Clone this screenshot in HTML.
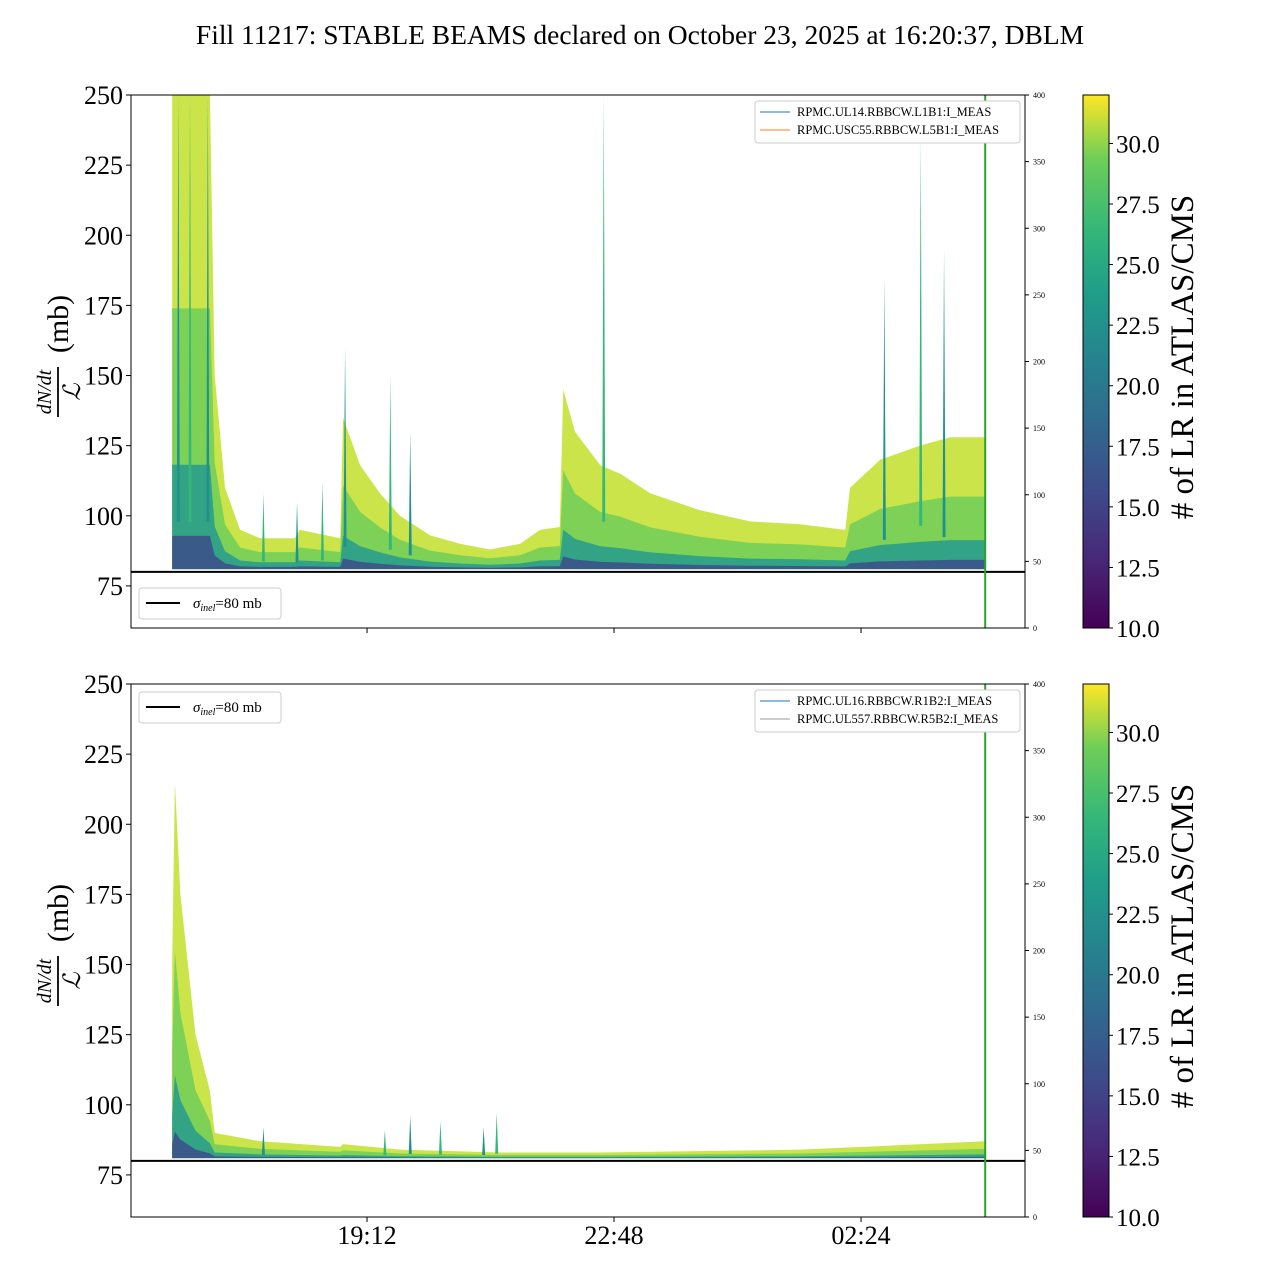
<!DOCTYPE html>
<html><head><meta charset="utf-8">
<style>
body{margin:0;background:#fff;font-family:"Liberation Serif",serif;}
svg text{font-family:"Liberation Serif",serif;}
</style></head>
<body>
<svg id="chart" width="1280" height="1280" viewBox="0 0 1280 1280" xmlns="http://www.w3.org/2000/svg">
<defs>
<linearGradient id="viridis" x1="0" y1="1" x2="0" y2="0">
<stop offset="0" stop-color="#440154"/><stop offset="0.13" stop-color="#482878"/><stop offset="0.25" stop-color="#3e4989"/>
<stop offset="0.38" stop-color="#31688e"/><stop offset="0.5" stop-color="#26828e"/><stop offset="0.63" stop-color="#1f9e89"/>
<stop offset="0.75" stop-color="#35b779"/><stop offset="0.88" stop-color="#6ece58"/><stop offset="1" stop-color="#fde725"/>
</linearGradient>
</defs>
<text x="640" y="44" font-size="27.5" text-anchor="middle">Fill 11217: STABLE BEAMS declared on October 23, 2025 at 16:20:37, DBLM</text>
<g id="top"></g>
<g id="bottom"></g>
</svg>
<script>
// time in hours since midnight Oct 23 (values >24 are next day)
const topTimes=[16.36,16.91,16.98,17.13,17.35,17.64,18.15,18.22,18.81,18.85,19.10,19.39,19.68,20.12,20.56,20.99,21.43,21.72,22.01,22.06,22.23,22.60,22.89,23.33,24.05,24.78,25.51,26.17,26.24,26.68,27.26,27.70,28.21];
const topUpper=[250,250,150,110,95,92,92,95,92,135,118,108,100,93,90,88,90,95,96,145,130,118,115,108,102,98,97,95,110,120,125,128,128];
const topSpikeTimes=[16.45,16.62,16.88,17.69,18.18,18.55,18.88,19.54,19.83,22.65,26.74,27.27,27.61];
const topSpikeValues=[250,250,250,108,105,112,160,150,130,250,185,235,195];
const botTimes=[16.36,16.40,16.48,16.70,16.91,16.98,17.64,18.81,18.85,19.68,21.14,22.6,25.51,28.21];
const botUpper=[150,215,175,125,105,90,87,85,86,84,83,83,84,87];
const botSpikeTimes=[17.69,19.46,19.83,20.27,20.90,21.09];
const botSpikeValues=[92,91,96,94,92,97];
const yTicks=[75,100,125,150,175,200,225,250];
const rTicks=[0,50,100,150,200,250,300,350,400];
const xTickTimes=[19.2,22.8,26.4];
const xTickLabels=["19:12","22:48","02:24"];
const cbTicks=[10,12.5,15,17.5,20,22.5,25,27.5,30];
const NS="http://www.w3.org/2000/svg";
const X0=131,X1=1025,T0=15.76,T1=28.79;
const xs=t=>X0+(t-T0)/(T1-T0)*(X1-X0);
function mk(p,tag,a){const e=document.createElementNS(NS,tag);for(const k in a)e.setAttribute(k,a[k]);p.appendChild(e);return e;}
function panel(g,top,times,upper,spT,spV,legendTop,names,colors){
  const bot=top+533;
  const ys=v=>top+(250-v)/(250-60)*533;
  const base=81;
  const clipId="clip"+top;
  const cp=mk(g,"clipPath",{id:clipId});mk(cp,"rect",{x:X0,y:top,width:X1-X0,height:533});
  const cg=mk(g,"g",{"clip-path":`url(#${clipId})`});
  const layers=[[1,"#c2df2a",0.85],[0.55,"#6ece58",0.85],[0.22,"#2a9d8a",0.9],[0.07,"#3b528b",0.9]];
  layers.forEach(([f,c,o])=>{
    let d="M"+xs(times[0])+","+ys(base);
    times.forEach((t,i)=>{d+=" L"+xs(t)+","+ys(base+(upper[i]-base)*f);});
    d+=" L"+xs(times[times.length-1])+","+ys(base)+" Z";
    const p=mk(cg,"path",{d,fill:c,"fill-opacity":o});
    
    
  });
  spT.forEach((t,i)=>{
    const x=xs(t);
    const p=mk(cg,"path",{d:`M${x-1.5},${ys(base+(spV[i]-base)*0.1)} L${x},${ys(spV[i])} L${x+1.5},${ys(base+(spV[i]-base)*0.1)} Z`,fill:i%2?"#35b779":"#21918c"});
    
    
  });
  const l80=mk(g,"line",{x1:X0,x2:X1,y1:ys(80),y2:ys(80),stroke:"#000","stroke-width":2});
  
  
  mk(g,"line",{x1:xs(28.21),x2:xs(28.21),y1:top,y2:bot,stroke:"#2ca02c","stroke-width":2});
  mk(g,"rect",{x:X0,y:top,width:X1-X0,height:533,fill:"none",stroke:"#000","stroke-width":1});
  yTicks.forEach(v=>{const y=ys(v);mk(g,"line",{x1:X0-5,x2:X0,y1:y,y2:y,stroke:"#000"});
    const t=mk(g,"text",{x:X0-8,y:y+9,"font-size":26,"text-anchor":"end"});t.textContent=v;
    });
  rTicks.forEach(v=>{const y=bot-v/400*533;mk(g,"line",{x1:X1,x2:X1+4,y1:y,y2:y,stroke:"#000"});
    const t=mk(g,"text",{x:X1+8,y:y+3,"font-size":8});t.textContent=v;
    });
  xTickTimes.forEach(tm=>{const x=xs(tm);mk(g,"line",{x1:x,x2:x,y1:bot,y2:bot+5,stroke:"#000"});});
  const yl=mk(g,"g",{transform:`translate(58,${top+267}) rotate(-90)`});
  
  let t=mk(yl,"text",{x:-30,y:-7,"font-size":20,"font-style":"italic","text-anchor":"middle"});t.textContent="dN/dt";
  mk(yl,"line",{x1:-55,x2:-5,y1:0,y2:0,stroke:"#000","stroke-width":1.8});
  t=mk(yl,"text",{x:-30,y:22,"font-size":24,"font-style":"italic","text-anchor":"middle"});t.textContent="ℒ";
  t=mk(yl,"text",{x:38,y:10,"font-size":30,"text-anchor":"middle"});t.textContent="(mb)";
  const lg=mk(g,"g",{});
  mk(lg,"rect",{x:139,y:legendTop,width:142,height:31,rx:3,fill:"#fff",stroke:"#ccc"});
  mk(lg,"line",{x1:146,x2:180,y1:legendTop+15,y2:legendTop+15,stroke:"#000","stroke-width":2});
  t=mk(lg,"text",{x:193,y:legendTop+20,"font-size":15});
  t.innerHTML='<tspan font-style="italic">σ</tspan><tspan font-size="10" font-style="italic" dy="3">inel</tspan><tspan dy="-3">=80 mb</tspan>';
  const sl=mk(g,"g",{});
  mk(sl,"rect",{x:755,y:top+6,width:265,height:42,rx:3,fill:"#fff",stroke:"#ccc"});
  names.forEach((n,i)=>{const y=top+17+i*18;
    mk(sl,"line",{x1:760,x2:790,y1:y,y2:y,stroke:colors[i],"stroke-width":1});
    const tt=mk(sl,"text",{x:797,y:y+4,"font-size":12.5});tt.textContent=n;});
  const cb=mk(g,"rect",{x:1083,y:top,width:26,height:533,fill:"url(#viridis)",stroke:"#000"});
  
  cbTicks.forEach(v=>{const y=bot-(v-10)/22*533;mk(g,"line",{x1:1109,x2:1113,y1:y,y2:y,stroke:"#000"});
    const tt=mk(g,"text",{x:1116,y:y+9,"font-size":25});tt.textContent=v.toFixed(1);
    });
  const cl=mk(g,"text",{transform:`translate(1193,${top+262}) rotate(-90)`,"font-size":33,"text-anchor":"middle"});
  cl.textContent="# of LR in ATLAS/CMS";
  
}
panel(document.getElementById("top"),95,topTimes,topUpper,topSpikeTimes,topSpikeValues,588,["RPMC.UL14.RBBCW.L1B1:I_MEAS","RPMC.USC55.RBBCW.L5B1:I_MEAS"],["#1f77b4","#ff7f0e"]);
panel(document.getElementById("bottom"),684,botTimes,botUpper,botSpikeTimes,botSpikeValues,692,["RPMC.UL16.RBBCW.R1B2:I_MEAS","RPMC.UL557.RBBCW.R5B2:I_MEAS"],["#1f77b4","#999"]);
const bg=document.getElementById("bottom");
xTickTimes.forEach((tm,i)=>{const t=mk(bg,"text",{x:xs(tm),y:1244,"font-size":26,"text-anchor":"middle"});t.textContent=xTickLabels[i];
  });
</script>
</body></html>
